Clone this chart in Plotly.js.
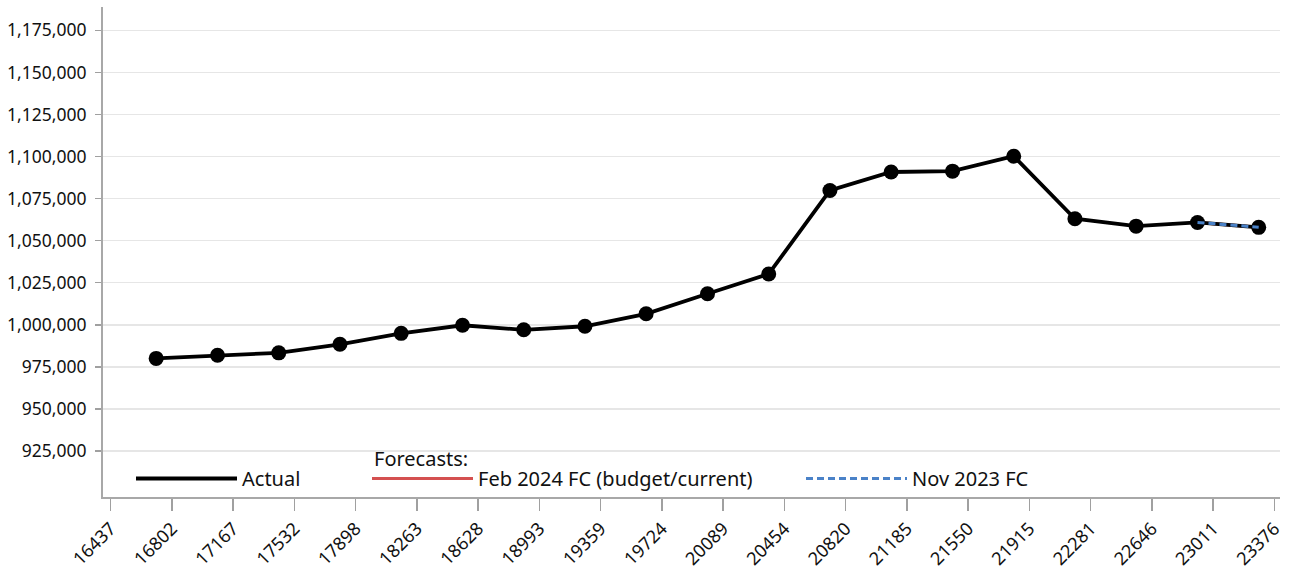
<!DOCTYPE html>
<html>
<head>
<meta charset="utf-8">
<script src="https://cdn.plot.ly/plotly-3.0.1.min.js"></script>
<style>html,body{margin:0;padding:0;background:#fff;}#chart{width:1289px;height:569px;}</style>
</head>
<body>
<div id="chart"></div>
<script>
// x positions (day numbers) of each yearly observation
var periodDays = [16708, 17074, 17439, 17804, 18169, 18535, 18900, 19265, 19630, 19996,
                  20361, 20726, 21091, 21457, 21822, 22187, 22552, 22918, 23283];
var actualValues = [980000, 981900, 983300, 988400, 994900, 999700, 997000, 999100, 1006500, 1018400,
                    1030200, 1079800, 1090800, 1091300, 1100200, 1063000, 1058600, 1060800, 1057900];
var forecastDays = [22918, 23283];
var feb2024FC = [1060800, 1057900];
var nov2023FC = [1060800, 1058000];
var xTickVals = [16437, 16802, 17167, 17532, 17898, 18263, 18628, 18993, 19359, 19724,
                 20089, 20454, 20820, 21185, 21550, 21915, 22281, 22646, 23011, 23376];
var xTickText = xTickVals.map(String);
var yTickVals = [925000, 950000, 975000, 1000000, 1025000, 1050000, 1075000, 1100000, 1125000, 1150000, 1175000];
var forecastsLabel = 'Forecasts:';

var FONT = 'Noto Sans, Open Sans, sans-serif';

var traces = [
  {x: forecastDays, y: feb2024FC, type: 'scatter', mode: 'lines', name: 'Feb 2024 FC (budget/current)',
   line: {color: '#d45050', width: 3}, legend: 'legend2', hoverinfo: 'skip'},
  {x: periodDays, y: actualValues, type: 'scatter', mode: 'lines', name: 'Actual',
   line: {color: '#000000', width: 3.8}, legend: 'legend', hoverinfo: 'skip'},
  {x: periodDays, y: actualValues, type: 'scatter', mode: 'markers', name: 'Actual points', showlegend: false,
   marker: {color: '#000000', size: 15}, hoverinfo: 'skip'},
  {x: forecastDays, y: nov2023FC, type: 'scatter', mode: 'lines', name: 'Nov 2023 FC',
   line: {color: '#4a82c8', width: 3, dash: '7px,4px'}, legend: 'legend3', hoverinfo: 'skip'}
];

var legendBase = {
  orientation: 'h', xref: 'paper', yref: 'paper', xanchor: 'left', yanchor: 'top',
  bgcolor: 'rgba(0,0,0,0)', borderwidth: 0, itemwidth: 101,
  font: {family: FONT, size: 20, color: '#111111'}, itemclick: false, itemdoubleclick: false
};
function px2x(p) { return (p - 103) / 1177; }
function px2y(p) { return (497 - p) / 490; }

var layout = {
  width: 1289, height: 569,
  margin: {l: 103, r: 9, t: 7, b: 72},
  paper_bgcolor: '#ffffff', plot_bgcolor: '#ffffff',
  font: {family: FONT, size: 17.5, color: '#111111'},
  xaxis: {
    range: [16391, 23410], tickmode: 'array', tickvals: xTickVals, ticktext: xTickText,
    tickangle: -45, ticks: 'outside', ticklen: 12, tickwidth: 1.5, tickcolor: '#a0a0a0',
    showgrid: false, zeroline: false, showline: true, linecolor: '#a8a8a8', linewidth: 2,
    tickfont: {family: FONT, size: 18, color: '#111111'}
  },
  yaxis: {
    range: [897620, 1188870], tickmode: 'array', tickvals: yTickVals, tickformat: ',d',
    ticks: 'outside', ticklen: 6, tickwidth: 1.5, tickcolor: '#a0a0a0',
    showgrid: true, gridcolor: '#e6e6e6', gridwidth: 1.5, zeroline: false,
    showline: true, linecolor: '#a8a8a8', linewidth: 2, ticklabelstandoff: 5,
    tickfont: {family: FONT, size: 17.5, color: '#111111'}
  },
  legend: Object.assign({}, legendBase, {x: px2x(131), y: px2y(459)}),
  legend2: Object.assign({}, legendBase, {x: px2x(367), y: px2y(459)}),
  legend3: Object.assign({}, legendBase, {x: px2x(801), y: px2y(459)}),
  annotations: [{
    text: forecastsLabel, xref: 'paper', yref: 'paper', x: px2x(372), y: px2y(458),
    xanchor: 'left', yanchor: 'middle', showarrow: false,
    font: {family: FONT, size: 20, color: '#111111'}
  }],
  showlegend: true
};

Plotly.newPlot('chart', traces, layout, {displayModeBar: false, staticPlot: true});
</script>
</body>
</html>
